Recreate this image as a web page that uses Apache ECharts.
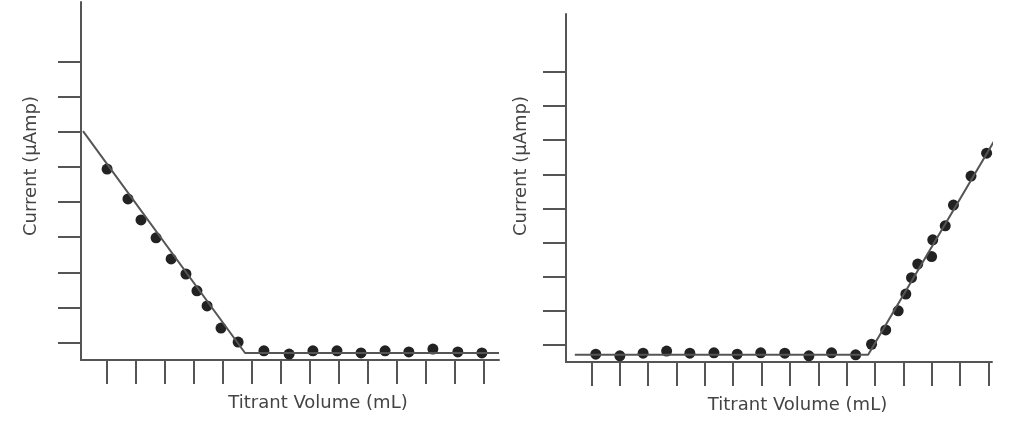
<!DOCTYPE html>
<html>
<head>
<meta charset="utf-8">
<script src="https://cdn.jsdelivr.net/npm/echarts@6/dist/echarts.min.js"></script>
<style>
    html,
    body {
        margin: 0;
        padding: 0;
        background: #fff;
    }
    #chart {
        width: 1024px;
        height: 432px;
    }
</style>
</head>
<body>
<div id="chart"></div>
<script>
// left panel: current falls to a flat line
var leftVolume = [1.0, 1.72, 2.17, 2.69, 3.21, 3.72, 4.1, 4.45, 4.93, 5.52, 6.41, 7.28, 8.1, 8.93, 9.76, 10.59, 11.41, 12.24, 13.1, 13.93];
var leftCurrent = [5.44, 4.59, 3.99, 3.48, 2.88, 2.45, 1.97, 1.54, 0.91, 0.51, 0.26, 0.17, 0.26, 0.26, 0.2, 0.26, 0.23, 0.31, 0.23, 0.2];
var leftFitVolume = [0.17, 5.76, 14.52];
var leftFitCurrent = [6.52, 0.2, 0.2];

// right panel: flat line, then current rises
var rightVolume = [1.15, 2.0, 2.82, 3.65, 4.47, 5.32, 6.14, 6.97, 7.82, 8.67, 9.47, 10.32, 10.88, 11.38, 11.82, 12.09, 12.29, 12.51, 13.0, 13.04, 13.48, 13.77, 14.39, 14.94];
var rightCurrent = [0.23, 0.18, 0.26, 0.32, 0.26, 0.27, 0.23, 0.27, 0.26, 0.18, 0.27, 0.21, 0.52, 0.94, 1.5, 1.99, 2.47, 2.87, 3.09, 3.58, 3.99, 4.6, 5.45, 6.12];
var rightFitVolume = [0.41, 10.76, 15.35];
var rightFitCurrent = [0.21, 0.21, 6.68];

// tick marks (no labels in the original)
var leftXTicks = [1, 2, 3, 4, 5, 6, 7, 8, 9, 10, 11, 12, 13, 14];
var rightXTicks = [1, 2, 3, 4, 5, 6, 7, 8, 9, 10, 11, 12, 13, 14, 15];
var yTicks = [0.5, 1.5, 2.5, 3.5, 4.5, 5.5, 6.5, 7.5, 8.5];

var xName = "Titrant Volume (mL)";
var yName = "Current (µAmp)";

function pairs(xs, ys) {
    return xs.map(function (x, i) {
        return [x, ys[i]];
    });
}

var axisColor = "#555";
var nameStyle = {
    color: "#444",
    fontFamily: "DejaVu Sans",
    fontSize: 18,
};

function xAxis(idx, max, ticks, shift) {
    return {
        type: "value",
        gridIndex: idx,
        min: 0.1,
        max: max,
        name: xName,
        nameLocation: "middle",
        nameGap: 34,
        nameTextStyle: Object.assign({ padding: [0, 0, 0, shift] }, nameStyle),
        axisLine: { onZero: false, lineStyle: { color: axisColor, width: 2 } },
        axisTick: {
            show: true,
            inside: false,
            length: 24,
            customValues: ticks,
            lineStyle: { color: axisColor, width: 2 },
        },
        axisLabel: { show: false },
        splitLine: { show: false },
    };
}

function yAxis(idx, gap, shift) {
    return {
        type: "value",
        gridIndex: idx,
        min: 0,
        max: 10.2,
        name: yName,
        nameLocation: "middle",
        nameGap: gap,
        nameTextStyle: Object.assign({ padding: [0, 0, 0, shift] }, nameStyle),
        axisLine: { onZero: false, lineStyle: { color: axisColor, width: 2 } },
        axisTick: {
            show: true,
            inside: false,
            length: 23,
            customValues: yTicks,
            lineStyle: { color: axisColor, width: 2 },
        },
        axisLabel: { show: false },
        splitLine: { show: false },
    };
}

var mychart = echarts.init(document.getElementById("chart"));

var option = {
    animation: false,
    backgroundColor: "#fff",
    grid: [
        { left: 81, top: 2, width: 418, height: 358 },
        { left: 566, top: 14, width: 426, height: 348 },
    ],
    xAxis: [xAxis(0, 14.52, leftXTicks, 56), xAxis(1, 15.13, rightXTicks, 37)],
    yAxis: [yAxis(0, 41, 30), yAxis(1, 36, 44)],
    series: [
        {
            type: "line",
            xAxisIndex: 0,
            yAxisIndex: 0,
            data: pairs(leftFitVolume, leftFitCurrent),
            symbol: "none",
            clip: false,
            lineStyle: { color: "#555", width: 2 },
        },
        {
            type: "scatter",
            xAxisIndex: 0,
            yAxisIndex: 0,
            data: pairs(leftVolume, leftCurrent),
            symbolSize: 11,
            itemStyle: { color: "#222", opacity: 1 },
        },
        {
            type: "line",
            xAxisIndex: 1,
            yAxisIndex: 1,
            data: pairs(rightFitVolume, rightFitCurrent),
            symbol: "none",
            clip: false,
            lineStyle: { color: "#555", width: 2 },
        },
        {
            type: "scatter",
            xAxisIndex: 1,
            yAxisIndex: 1,
            data: pairs(rightVolume, rightCurrent),
            symbolSize: 11,
            itemStyle: { color: "#222", opacity: 1 },
        },
    ],
};

mychart.setOption(option);
</script>
</body>
</html>
